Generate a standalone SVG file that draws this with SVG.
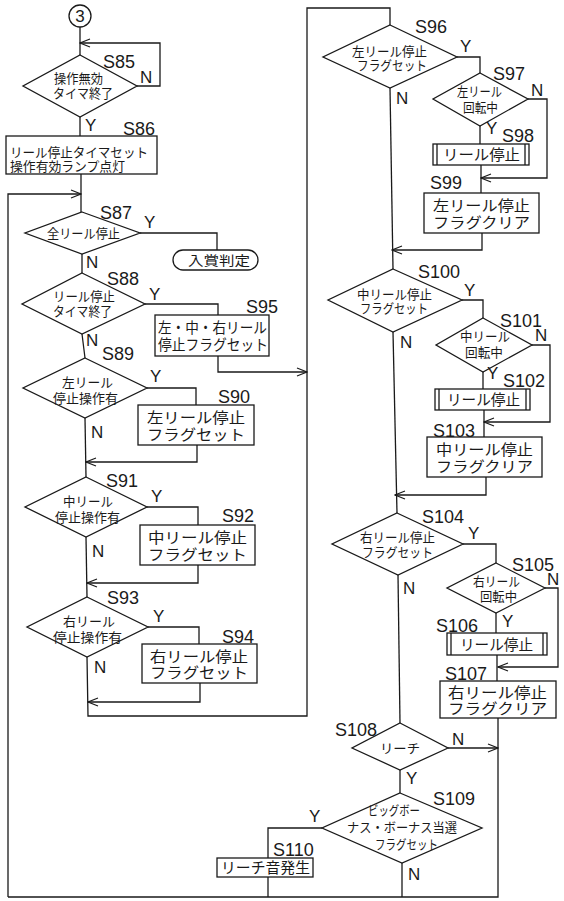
<svg xmlns="http://www.w3.org/2000/svg" width="564" height="901" viewBox="0 0 564 901">
<defs>
<marker id="ar" markerUnits="userSpaceOnUse" markerWidth="12" markerHeight="10" refX="11" refY="5" orient="auto"><path d="M1,1 L11,5 L1,9" fill="none" stroke="#1a1a1a" stroke-width="1.2"/></marker>
<style>
.s{fill:none;stroke:#1a1a1a;stroke-width:1.3}
.n{fill:#fff;stroke:#1a1a1a;stroke-width:1.3}
.j{font-family:"Noto Sans CJK JP","Noto Sans CJK SC",sans-serif;font-size:13px;fill:#1a1a1a}
.b{font-family:"Noto Sans CJK JP","Noto Sans CJK SC",sans-serif;font-size:15px;fill:#1a1a1a}
.l{font-family:"Liberation Sans",Arial,sans-serif;font-size:18px;fill:#1a1a1a}
.yn{font-family:"Liberation Sans",Arial,sans-serif;font-size:17px;fill:#1a1a1a}
</style>
</defs>
<rect width="564" height="901" fill="#fff"/>
<g id="connectors" class="s">
<path d="M80,27 V55"/>
<path d="M137,86 H160 V43 H80" marker-end="url(#ar)"/>
<path d="M80,117 V136"/>
<path d="M81,174 V212"/>
<path d="M8,897 V194 H81" marker-end="url(#ar)"/>
<path d="M140,233 H217 V250"/>
<path d="M82,254 V273"/>
<path d="M145,304 H218 V315"/>
<path d="M218,356 V372 H307" marker-end="url(#ar)"/>
<path d="M82,334 L85,358"/>
<path d="M147,388 H196 V405"/>
<path d="M197,445 V462 H86" marker-end="url(#ar)"/>
<path d="M85,418 L86,477"/>
<path d="M147,507 H198 V525"/>
<path d="M198,565 V583 H87" marker-end="url(#ar)"/>
<path d="M86,537 L87,597"/>
<path d="M148,627 H199 V644"/>
<path d="M200,683 V702 H88" marker-end="url(#ar)"/>
<path d="M87,657 L88,716 H307 V8 H390 V25"/>
<path d="M457,57 H480 V73"/>
<path d="M528,99 H547 V178 H481" marker-end="url(#ar)"/>
<path d="M480,126 V144"/>
<path d="M481,165 V193"/>
<path d="M482,233 V250 H392" marker-end="url(#ar)"/>
<path d="M390,88 L393,269"/>
<path d="M462,300 H483 V318"/>
<path d="M532,345 H550 V422 H484" marker-end="url(#ar)"/>
<path d="M483,372 V389"/>
<path d="M484,410 V437"/>
<path d="M486,477 V495 H395" marker-end="url(#ar)"/>
<path d="M393,332 L397,513"/>
<path d="M463,544 H496 V563"/>
<path d="M545,588 H558 V667 H498" marker-end="url(#ar)"/>
<path d="M496,613 V633"/>
<path d="M497,655 V681"/>
<path d="M498,718 V897 H8"/>
<path d="M398,575 L400,723"/>
<path d="M448,748 H498" marker-end="url(#ar)"/>
<path d="M400,770 V793"/>
<path d="M322,828 H268 V858"/>
<path d="M268,877 V897"/>
<path d="M402,863 V897"/>
</g>
<g id="start">
<circle class="n" cx="80" cy="16" r="11"/>
<text class="yn" x="80" y="22" text-anchor="middle">3</text>
</g>
<g id="S85">
<polygon class="n" points="80,55 137,86 80,117 23,86"/>
<text class="j" x="54" y="83" textLength="49" lengthAdjust="spacingAndGlyphs">操作無効</text>
<text class="j" x="53" y="98" textLength="60" lengthAdjust="spacingAndGlyphs">タイマ終了</text>
<text class="l" x="103" y="68">S85</text>
<text class="yn" x="140" y="83">N</text>
<text class="yn" x="85" y="131">Y</text>
</g>
<g id="S86">
<rect class="n" x="6" y="136" width="151" height="38"/>
<text class="j" x="10" y="157" textLength="138" lengthAdjust="spacingAndGlyphs">リール停止タイマセット</text>
<text class="j" x="10" y="171" textLength="115" lengthAdjust="spacingAndGlyphs">操作有効ランプ点灯</text>
<text class="l" x="123" y="135">S86</text>
</g>
<g id="S87">
<polygon class="n" points="82,212 140,233 82,254 25,233"/>
<text class="j" x="47" y="238" textLength="73" lengthAdjust="spacingAndGlyphs">全リール停止</text>
<text class="l" x="100" y="219">S87</text>
<text class="yn" x="144" y="228">Y</text>
<text class="yn" x="86" y="268">N</text>
</g>
<g id="win">
<rect class="n" x="173" y="250" width="85" height="20" rx="10"/>
<text class="j" x="188" y="265" textLength="62" lengthAdjust="spacingAndGlyphs">入賞判定</text>
</g>
<g id="S88">
<polygon class="n" points="82,273 145,304 82,334 22,304"/>
<text class="j" x="53" y="301" textLength="62" lengthAdjust="spacingAndGlyphs">リール停止</text>
<text class="j" x="53" y="316" textLength="59" lengthAdjust="spacingAndGlyphs">タイマ終了</text>
<text class="l" x="107" y="285">S88</text>
<text class="yn" x="149" y="300">Y</text>
<text class="yn" x="86" y="346">N</text>
</g>
<g id="S95">
<rect class="n" x="155" y="315" width="114" height="41"/>
<text class="b" x="158" y="333" textLength="109" lengthAdjust="spacingAndGlyphs">左・中・右リール</text>
<text class="b" x="158" y="350" textLength="110" lengthAdjust="spacingAndGlyphs">停止フラグセット</text>
<text class="l" x="246" y="313">S95</text>
</g>
<g id="S89">
<polygon class="n" points="85,358 147,388 85,418 23,388"/>
<text class="j" x="62" y="387" textLength="51" lengthAdjust="spacingAndGlyphs">左リール</text>
<text class="j" x="53" y="403" textLength="65" lengthAdjust="spacingAndGlyphs">停止操作有</text>
<text class="l" x="102" y="360">S89</text>
<text class="yn" x="150" y="382">Y</text>
<text class="yn" x="91" y="438">N</text>
</g>
<g id="S90">
<rect class="n" x="138" y="405" width="116" height="40"/>
<text class="b" x="147" y="423" textLength="98" lengthAdjust="spacingAndGlyphs">左リール停止</text>
<text class="b" x="147" y="440" textLength="98" lengthAdjust="spacingAndGlyphs">フラグセット</text>
<text class="l" x="218" y="403">S90</text>
</g>
<g id="S91">
<polygon class="n" points="86,477 147,507 86,537 25,507"/>
<text class="j" x="63" y="506" textLength="50" lengthAdjust="spacingAndGlyphs">中リール</text>
<text class="j" x="55" y="522" textLength="65" lengthAdjust="spacingAndGlyphs">停止操作有</text>
<text class="l" x="106" y="487">S91</text>
<text class="yn" x="151" y="502">Y</text>
<text class="yn" x="92" y="557">N</text>
</g>
<g id="S92">
<rect class="n" x="140" y="525" width="115" height="40"/>
<text class="b" x="148" y="543" textLength="99" lengthAdjust="spacingAndGlyphs">中リール停止</text>
<text class="b" x="148" y="560" textLength="99" lengthAdjust="spacingAndGlyphs">フラグセット</text>
<text class="l" x="222" y="522">S92</text>
</g>
<g id="S93">
<polygon class="n" points="87,597 148,627 87,657 27,627"/>
<text class="j" x="63" y="626" textLength="52" lengthAdjust="spacingAndGlyphs">右リール</text>
<text class="j" x="53" y="642" textLength="69" lengthAdjust="spacingAndGlyphs">停止操作有</text>
<text class="l" x="107" y="604">S93</text>
<text class="yn" x="153" y="622">Y</text>
<text class="yn" x="94" y="673">N</text>
</g>
<g id="S94">
<rect class="n" x="142" y="644" width="115" height="39"/>
<text class="b" x="150" y="662" textLength="98" lengthAdjust="spacingAndGlyphs">右リール停止</text>
<text class="b" x="150" y="678" textLength="98" lengthAdjust="spacingAndGlyphs">フラグセット</text>
<text class="l" x="222" y="643">S94</text>
</g>
<g id="S96">
<polygon class="n" points="390,25 457,57 390,88 323,57"/>
<text class="j" x="352" y="56" textLength="75" lengthAdjust="spacingAndGlyphs">左リール停止</text>
<text class="j" x="357" y="70" textLength="70" lengthAdjust="spacingAndGlyphs">フラグセット</text>
<text class="l" x="415" y="33">S96</text>
<text class="yn" x="460" y="52">Y</text>
<text class="yn" x="396" y="104">N</text>
</g>
<g id="S97">
<polygon class="n" points="480,73 528,99 480,126 433,99"/>
<text class="j" x="457" y="96" textLength="45" lengthAdjust="spacingAndGlyphs">左リール</text>
<text class="j" x="463" y="112" textLength="35" lengthAdjust="spacingAndGlyphs">回転中</text>
<text class="l" x="493" y="80">S97</text>
<text class="yn" x="531" y="96">N</text>
<text class="yn" x="486" y="134">Y</text>
</g>
<g id="S98">
<rect class="n" x="433" y="144" width="96" height="21"/>
<path class="s" d="M437,144 V165 M525,144 V165"/>
<text class="b" x="443" y="160" textLength="77" lengthAdjust="spacingAndGlyphs">リール停止</text>
<text class="l" x="502" y="142">S98</text>
</g>
<g id="S99">
<rect class="n" x="424" y="193" width="115" height="40"/>
<text class="b" x="433" y="211" textLength="97" lengthAdjust="spacingAndGlyphs">左リール停止</text>
<text class="b" x="433" y="228" textLength="97" lengthAdjust="spacingAndGlyphs">フラグクリア</text>
<text class="l" x="430" y="189">S99</text>
</g>
<g id="S100">
<polygon class="n" points="393,269 462,300 393,332 328,300"/>
<text class="j" x="357" y="299" textLength="75" lengthAdjust="spacingAndGlyphs">中リール停止</text>
<text class="j" x="360" y="313" textLength="68" lengthAdjust="spacingAndGlyphs">フラグセット</text>
<text class="l" x="418" y="278">S100</text>
<text class="yn" x="464" y="296">Y</text>
<text class="yn" x="400" y="348">N</text>
</g>
<g id="S101">
<polygon class="n" points="483,318 532,345 483,372 436,345"/>
<text class="j" x="460" y="341" textLength="50" lengthAdjust="spacingAndGlyphs">中リール</text>
<text class="j" x="465" y="357" textLength="38" lengthAdjust="spacingAndGlyphs">回転中</text>
<text class="l" x="500" y="327">S101</text>
<text class="yn" x="535" y="341">N</text>
<text class="yn" x="487" y="379">Y</text>
</g>
<g id="S102">
<rect class="n" x="435" y="389" width="95" height="21"/>
<path class="s" d="M439,389 V410 M526,389 V410"/>
<text class="b" x="447" y="405" textLength="73" lengthAdjust="spacingAndGlyphs">リール停止</text>
<text class="l" x="503" y="387">S102</text>
</g>
<g id="S103">
<rect class="n" x="427" y="437" width="115" height="40"/>
<text class="b" x="436" y="455" textLength="97" lengthAdjust="spacingAndGlyphs">中リール停止</text>
<text class="b" x="436" y="472" textLength="97" lengthAdjust="spacingAndGlyphs">フラグクリア</text>
<text class="l" x="433" y="437">S103</text>
</g>
<g id="S104">
<polygon class="n" points="397,513 463,544 398,575 332,544"/>
<text class="j" x="360" y="542" textLength="75" lengthAdjust="spacingAndGlyphs">右リール停止</text>
<text class="j" x="362" y="557" textLength="71" lengthAdjust="spacingAndGlyphs">フラグセット</text>
<text class="l" x="422" y="523">S104</text>
<text class="yn" x="468" y="539">Y</text>
<text class="yn" x="403" y="594">N</text>
</g>
<g id="S105">
<polygon class="n" points="496,563 545,588 496,613 447,588"/>
<text class="j" x="473" y="586" textLength="47" lengthAdjust="spacingAndGlyphs">右リール</text>
<text class="j" x="480" y="601" textLength="37" lengthAdjust="spacingAndGlyphs">回転中</text>
<text class="l" x="512" y="571">S105</text>
<text class="yn" x="547" y="585">N</text>
<text class="yn" x="502" y="627">Y</text>
</g>
<g id="S106">
<rect class="n" x="447" y="633" width="100" height="22"/>
<path class="s" d="M451,633 V655 M543,633 V655"/>
<text class="b" x="460" y="650" textLength="73" lengthAdjust="spacingAndGlyphs">リール停止</text>
<text class="l" x="436" y="632">S106</text>
</g>
<g id="S107">
<rect class="n" x="440" y="681" width="116" height="37"/>
<text class="b" x="448" y="698" textLength="99" lengthAdjust="spacingAndGlyphs">右リール停止</text>
<text class="b" x="448" y="714" textLength="99" lengthAdjust="spacingAndGlyphs">フラグクリア</text>
<text class="l" x="445" y="680">S107</text>
</g>
<g id="S108">
<polygon class="n" points="400,723 448,748 400,770 352,748"/>
<text class="j" x="380" y="753" textLength="40" lengthAdjust="spacingAndGlyphs">リーチ</text>
<text class="l" x="335" y="736">S108</text>
<text class="yn" x="452" y="745">N</text>
<text class="yn" x="406" y="784">Y</text>
</g>
<g id="S109">
<polygon class="n" points="400,793 482,828 402,863 322,828"/>
<text class="j" x="368" y="815" textLength="52" lengthAdjust="spacingAndGlyphs">ビッグボー</text>
<text class="j" x="347" y="832" textLength="110" lengthAdjust="spacingAndGlyphs">ナス・ボーナス当選</text>
<text class="j" x="375" y="849" textLength="63" lengthAdjust="spacingAndGlyphs">フラグセット</text>
<text class="l" x="433" y="805">S109</text>
<text class="yn" x="309" y="822">Y</text>
<text class="yn" x="408" y="880">N</text>
</g>
<g id="S110">
<rect class="n" x="217" y="858" width="96" height="19"/>
<text class="b" x="221" y="873" textLength="89" lengthAdjust="spacingAndGlyphs">リーチ音発生</text>
<text class="l" x="273" y="856">S110</text>
</g>
</svg>
